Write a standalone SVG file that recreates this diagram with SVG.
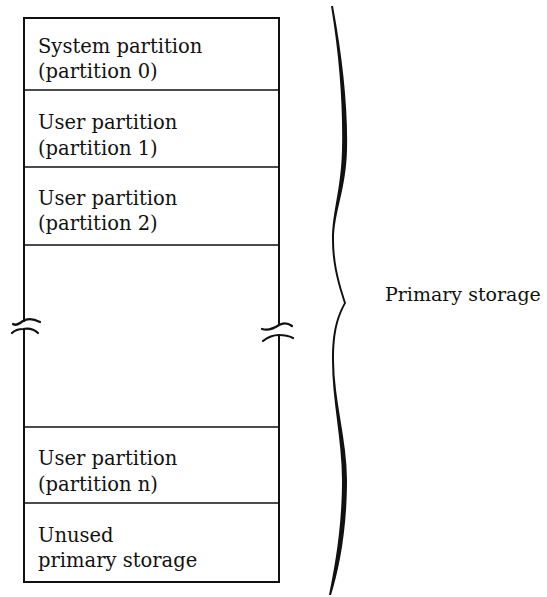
<svg xmlns="http://www.w3.org/2000/svg" width="547" height="597" viewBox="0 0 547 597">
<style>
.t{font-family:"DejaVu Serif","Liberation Serif",serif;font-size:19.5px;fill:#111}
.r{font-family:"DejaVu Serif","Liberation Serif",serif;font-size:19px;fill:#111}
.ln{stroke:#111;stroke-width:2;fill:none;stroke-linecap:square}
.dv{stroke:#111;stroke-width:1.6;fill:none}
.sq{stroke:#111;stroke-width:2.2;fill:none;stroke-linecap:round}
</style>
<rect width="547" height="597" fill="#fff"/>
<g id="frame">
<path class="ln" d="M24,321 L24,18 L279,18 L279,325"/>
<path class="ln" d="M24,330 L24,582 L279,582 L279,336"/>
<path class="sq" d="M13,324 C16,326 19,324 23,321 C28,318 34,319 40,322"/>
<path class="sq" d="M12,333 C15,330 18,329 23,329 C29,328 34,329 38,333"/>
<path class="sq" d="M262,329 C268,331 273,329 279,325 C284,322 288,323 292,326"/>
<path class="sq" d="M263,341 C268,337 272,335 279,335 C285,335 289,336 293,338"/>
</g>
<g id="p0">
<line class="dv" x1="24" y1="90" x2="279" y2="90"/>
<text class="t" x="38" y="53">System partition</text>
<text class="t" x="38" y="78">(partition 0)</text>
</g>
<g id="p1">
<line class="dv" x1="24" y1="167" x2="279" y2="167"/>
<text class="t" x="38" y="129">User partition</text>
<text class="t" x="38" y="155">(partition 1)</text>
</g>
<g id="p2">
<line class="dv" x1="24" y1="245" x2="279" y2="245"/>
<text class="t" x="38" y="205">User partition</text>
<text class="t" x="38" y="230">(partition 2)</text>
</g>
<g id="pn">
<line class="dv" x1="24" y1="427" x2="279" y2="427"/>
<line class="dv" x1="24" y1="503" x2="279" y2="503"/>
<text class="t" x="38" y="465">User partition</text>
<text class="t" x="38" y="491">(partition n)</text>
</g>
<g id="unused">
<text class="t" x="38" y="542">Unused</text>
<text class="t" x="38" y="567">primary storage</text>
</g>
<g id="brace">
<path fill="#111" d="M331,6 C340,60 343,110 342,150 C341,190 332,212 332,240 C332,268 340,290 344,303 L346,303 C342,290 334,268 334,240 C334,212 346,190 347,150 C348,110 343,60 333,6 Z"/>
<path fill="#111" d="M344,303 C337,316 332,330 332,360 C332,400 342,440 342,480 C342,530 334,570 329,595 L331,595 C339,570 347,530 347,480 C347,440 334,400 334,360 C334,330 339,316 346,303 Z"/>
</g>
<g id="label">
<text class="r" x="385" y="301">Primary storage</text>
</g>
</svg>
